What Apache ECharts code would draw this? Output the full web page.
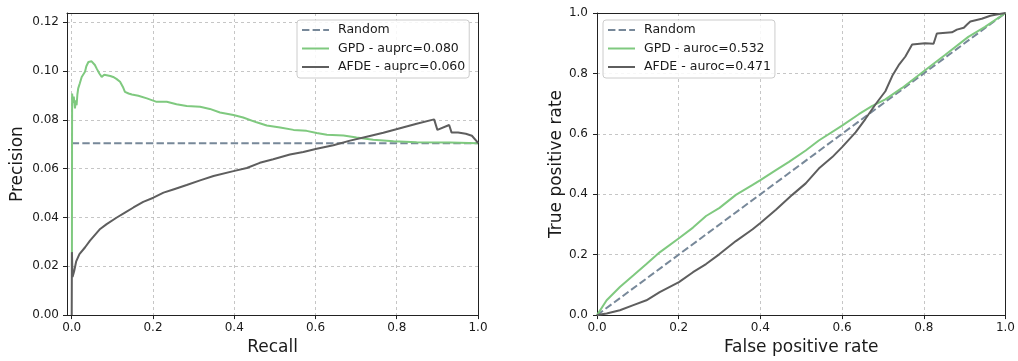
<!DOCTYPE html>
<html>
<head>
<meta charset="utf-8">
<script src="https://cdn.jsdelivr.net/npm/echarts@6/dist/echarts.min.js"></script>
<style>
html,body{margin:0;padding:0;background:#fff;}
#chart{width:1018px;height:361px;}
</style>
</head>
<body>
<div id="chart"></div>
<script>
// ---- Data ----
const legendNames = ['Random', 'GPD - auprc=0.080', 'AFDE - auprc=0.060'];
const legendNamesROC = ['Random', 'GPD - auroc=0.532', 'AFDE - auroc=0.471'];

const prTicksX = [0, 0.2, 0.4, 0.6, 0.8, 1.0];
const prTicksY = [0, 0.02, 0.04, 0.06, 0.08, 0.10, 0.12];
const rocTicks = [0, 0.2, 0.4, 0.6, 0.8, 1.0];

const randomPR = [[0, 0.0704], [1, 0.0704]];
const gpdPR = [
  [0.0005, 0.020], [0.0008, 0.068], [0.001, 0.0908], [0.003, 0.0870], [0.005, 0.0895],
  [0.008, 0.0847], [0.010, 0.0880], [0.012, 0.0860], [0.014, 0.0905], [0.016, 0.0929],
  [0.020, 0.0950], [0.0246, 0.0976], [0.0327, 0.0997], [0.036, 0.1020], [0.041, 0.1037],
  [0.045, 0.1030], [0.049, 0.1040], [0.053, 0.1035], [0.057, 0.1025], [0.0615, 0.1010],
  [0.068, 0.0990], [0.0738, 0.0976], [0.080, 0.0985], [0.086, 0.0983], [0.095, 0.0980],
  [0.102, 0.0976], [0.110, 0.0968], [0.119, 0.0956], [0.126, 0.0935], [0.131, 0.0915],
  [0.140, 0.0908], [0.148, 0.0904], [0.164, 0.0899], [0.185, 0.0888], [0.209, 0.0874],
  [0.234, 0.0874], [0.258, 0.0864], [0.283, 0.0857], [0.316, 0.0854], [0.340, 0.0845],
  [0.365, 0.0830], [0.398, 0.0820], [0.422, 0.0810], [0.455, 0.0790], [0.480, 0.0777],
  [0.513, 0.0769], [0.546, 0.0759], [0.578, 0.0755], [0.603, 0.0746], [0.628, 0.0739],
  [0.669, 0.0736], [0.701, 0.0728], [0.742, 0.0719], [0.792, 0.0712], [0.849, 0.0708],
  [0.931, 0.0707], [1.0, 0.0704]
];
const afdePR = [
  [0.0, 0.0], [0.0005, 0.0258], [0.002, 0.0156], [0.006, 0.0180], [0.011, 0.0220],
  [0.019, 0.0250], [0.033, 0.0278], [0.045, 0.0305], [0.070, 0.0353], [0.086, 0.0373],
  [0.111, 0.0400], [0.131, 0.0420], [0.152, 0.0441], [0.176, 0.0464], [0.201, 0.0481],
  [0.226, 0.0502], [0.250, 0.0515], [0.283, 0.0533], [0.316, 0.0552], [0.349, 0.0570],
  [0.398, 0.0590], [0.431, 0.0603], [0.463, 0.0624], [0.496, 0.0639], [0.537, 0.0658],
  [0.570, 0.0668], [0.603, 0.0682], [0.644, 0.0696], [0.685, 0.0715], [0.726, 0.0731],
  [0.767, 0.0747], [0.808, 0.0766], [0.849, 0.0784], [0.892, 0.0802], [0.900, 0.0759],
  [0.929, 0.0779], [0.935, 0.0748], [0.951, 0.0748], [0.970, 0.0743], [0.985, 0.0735],
  [0.997, 0.0712], [1.0, 0.0705]
];

const randomROC = [[0, 0], [1, 1]];
const gpdROC = [
  [0, 0], [0.0236, 0.049], [0.056, 0.093], [0.0886, 0.131], [0.121, 0.169],
  [0.1535, 0.2077], [0.2006, 0.2546], [0.235, 0.2896], [0.267, 0.328], [0.300, 0.355],
  [0.340, 0.398], [0.381, 0.431], [0.400, 0.447], [0.438, 0.480], [0.470, 0.507],
  [0.511, 0.545], [0.543, 0.578], [0.600, 0.627], [0.641, 0.665], [0.673, 0.692],
  [0.706, 0.714], [0.747, 0.752], [0.800, 0.807], [0.852, 0.861], [0.909, 0.921],
  [0.950, 0.954], [1.0, 1.0]
];
const afdeROC = [
  [0, 0], [0.0236, 0.005], [0.056, 0.016], [0.089, 0.033], [0.121, 0.049],
  [0.1535, 0.076], [0.2006, 0.109], [0.235, 0.142], [0.267, 0.169], [0.300, 0.202],
  [0.340, 0.245], [0.381, 0.284], [0.400, 0.305], [0.438, 0.349], [0.478, 0.398],
  [0.511, 0.436], [0.543, 0.485], [0.576, 0.523], [0.600, 0.556], [0.633, 0.605],
  [0.657, 0.649], [0.682, 0.698], [0.706, 0.741], [0.723, 0.792], [0.740, 0.830],
  [0.755, 0.856], [0.7715, 0.896], [0.803, 0.900], [0.824, 0.898], [0.832, 0.932],
  [0.869, 0.936], [0.881, 0.945], [0.898, 0.951], [0.906, 0.962], [0.914, 0.972],
  [0.942, 0.981], [0.963, 0.991], [0.975, 0.994], [1.0, 1.0]
];

// ---- Styles ----
const GREEN = '#7fc97f', GRAY = '#5e5e5e', SLATE = '#778899';
const FONT = 'DejaVu Sans';
const txt = '#1a1a1a';
const ICON_SOLID = 'path://M0,0H27V2H0Z';
const ICON_DASH = 'path://M0,0H7.4V2H0Z M10.6,0H18V2H10.6Z M21.2,0H27V2H21.2Z';

function axisCommon(customVals, fmtDigits, margin, extra) {
  return Object.assign({
    type: 'value',
    axisLine: { show: true, onZero: false, lineStyle: { color: '#222', width: 1 } },
    axisTick: { show: true, inside: false, length: 4, customValues: customVals, lineStyle: { color: '#222', width: 1 } },
    axisLabel: { show: true, customValues: customVals, margin: margin, color: txt, fontFamily: FONT, fontSize: 12,
      formatter: v => Number(v).toFixed(fmtDigits) },
    splitLine: { show: true, lineStyle: { color: '#b8b8b8', width: 0.8, type: [3, 3] } },
    nameTextStyle: { color: txt, fontFamily: FONT, fontSize: 17 },
    nameLocation: 'middle'
  }, extra);
}

// frame-only axes (top / right spines)
function frameAxis(gridIndex, position, min, max) {
  return {
    type: 'value', gridIndex: gridIndex, position: position, min: min, max: max,
    axisLine: { show: true, onZero: false, lineStyle: { color: '#222', width: 1 } },
    axisTick: { show: false }, axisLabel: { show: false }, splitLine: { show: false }
  };
}

function lineSeries(name, data, color, xi, yi, dashed) {
  return {
    type: 'line', name: name, data: data, xAxisIndex: xi, yAxisIndex: yi,
    symbol: 'none', showSymbol: false, smooth: false, animation: false,
    lineStyle: { color: color, width: 2, type: dashed ? [7.4, 3.2] : 'solid' },
    itemStyle: { color: color }
  };
}

function legend(names, left) {
  return {
    data: [
      { name: names[0], icon: ICON_DASH },
      { name: names[1], icon: ICON_SOLID },
      { name: names[2], icon: ICON_SOLID }
    ],
    orient: 'vertical', left: left, top: 20,
    itemWidth: 27, itemHeight: 2, itemGap: 4.5, symbolKeepAspect: false,
    padding: [3, 4, 4, 5],
    backgroundColor: 'rgba(255,255,255,0.85)', borderColor: '#cccccc', borderWidth: 1, borderRadius: 3,
    textStyle: { color: txt, fontFamily: FONT, fontSize: 12.5, lineHeight: 14, padding: [0, 0, 0, 4] },
    selectedMode: false
  };
}

const chart = echarts.init(document.getElementById('chart'), null, { renderer: 'canvas' });
chart.setOption({
  animation: false,
  backgroundColor: '#fff',
  grid: [
    { left: 67, top: 13, width: 411, height: 305 },
    { left: 597, top: 13, width: 410, height: 305 }
  ],
  legend: [legend(legendNames, 297), legend(legendNamesROC, 603)],
  xAxis: [
    axisCommon(prTicksX, 1, 7, { gridIndex: 0, min: -0.0116, max: 1.0, name: 'Recall', nameGap: 22 }),
    axisCommon(rocTicks, 1, 7, { gridIndex: 1, min: 0, max: 1, name: 'False positive rate', nameGap: 22 }),
    frameAxis(0, 'top', -0.0116, 1.0),
    frameAxis(1, 'top', 0, 1)
  ],
  yAxis: [
    axisCommon(prTicksY, 2, 8, { gridIndex: 0, min: 0, max: 0.1238, name: 'Precision', nameGap: 41 }),
    axisCommon(rocTicks, 1, 9, { gridIndex: 1, min: 0, max: 1, name: 'True positive rate', nameGap: 32 }),
    frameAxis(0, 'right', 0, 0.1238),
    frameAxis(1, 'right', 0, 1)
  ],
  series: [
    lineSeries(legendNames[0], randomPR, SLATE, 0, 0, true),
    lineSeries(legendNames[1], gpdPR, GREEN, 0, 0, false),
    lineSeries(legendNames[2], afdePR, GRAY, 0, 0, false),
    lineSeries(legendNamesROC[0], randomROC, SLATE, 1, 1, true),
    lineSeries(legendNamesROC[1], gpdROC, GREEN, 1, 1, false),
    lineSeries(legendNamesROC[2], afdeROC, GRAY, 1, 1, false)
  ]
});
</script>
</body>
</html>
